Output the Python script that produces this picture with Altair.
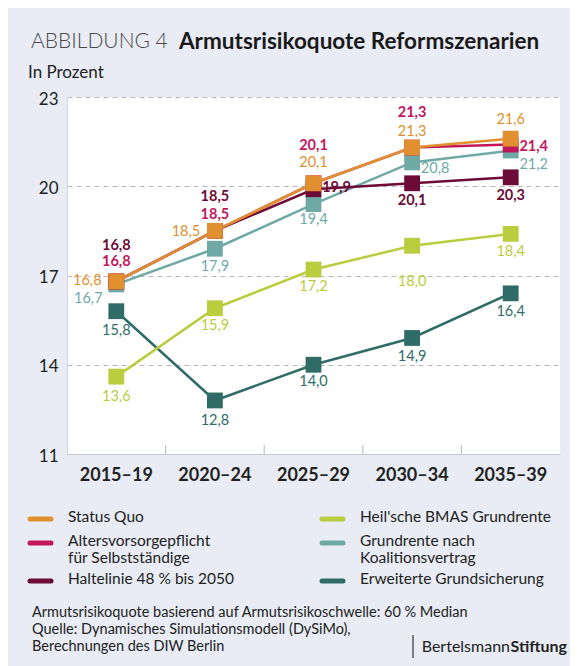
import altair as alt
import pandas as pd

# ---------------- data ----------------
periods = ["2015–19", "2020–24", "2025–29", "2030–34", "2035–39"]
y_ticks = [11, 14, 17, 20, 23]

series_names = [
    "Status Quo",
    "Altersvorsorgepflicht für Selbstständige",
    "Haltelinie 48 % bis 2050",
    "Heil'sche BMAS Grundrente",
    "Grundrente nach Koalitionsvertrag",
    "Erweiterte Grundsicherung",
]
status_quo = [16.8, 18.5, 20.1, 21.3, 21.6]
altersvorsorge = [16.8, 18.5, 20.1, 21.3, 21.4]
haltelinie = [16.8, 18.5, 19.9, 20.1, 20.3]
heil_grundrente = [13.6, 15.9, 17.2, 18.0, 18.4]
koalition_grundrente = [16.7, 17.9, 19.4, 20.8, 21.2]
erweiterte_grundsicherung = [15.8, 12.8, 14.0, 14.9, 16.4]
series_values = [status_quo, altersvorsorge, haltelinie,
                 heil_grundrente, koalition_grundrente, erweiterte_grundsicherung]

legend_lines = [
    ["Status Quo"],
    ["Altersvorsorgepflicht", "für Selbstständige"],
    ["Haltelinie 48 % bis 2050"],
    ["Heil'sche BMAS Grundrente"],
    ["Grundrente nach", "Koalitionsvertrag"],
    ["Erweiterte Grundsicherung"],
]
footer_lines = [
    "Armutsrisikoquote basierend auf Armutsrisikoschwelle: 60 % Median",
    "Quelle: Dynamisches Simulationsmodell (DySiMo),",
    "Berechnungen des DIW Berlin",
]

# ---------------- style ----------------
colors = ["#e0902f", "#c2175d", "#6c0b38", "#b9cd3e", "#6fa9a6", "#2f6c67"]
label_bold = [False, True, True, False, False, False]
# label offsets (dx, dy) in pixels per point
label_offsets = [
    [(-29, 0), (-29, 1), (0, -20), (0, -16), (0, -19)],
    [(0, -19), (0, -16), (0, -37), (0, -35), (23, 2)],
    [(0, -35), (0, -34), (23, -1), (0, 18), (0, 19)],
    [(0, 20), (0, 18), (0, 17), (0, 36), (0, 18)],
    [(-28, 15), (0, 18), (0, 16), (23, 7), (23, 14)],
    [(0, 20), (0, 21), (0, 17), (0, 19), (0, 19)],
]
draw_order = [5, 3, 4, 2, 1, 0]

W, H = 493, 357
FONT = "Lato"
TEXT = "#222222"

rows = []
for s, vals in zip(series_names, series_values):
    for p, v in zip(periods, vals):
        rows.append({"series": s, "period": p, "value": v,
                     "label": f"{v:.1f}".replace(".", ",")})
df = pd.DataFrame(rows)

x_scale = alt.Scale(domain=periods)
y_scale = alt.Scale(domain=[11, 23], nice=False, zero=False)

x_axis = alt.Axis(title=None, labelFont=FONT, labelFontSize=18, labelFontWeight="bold",
                  labelColor=TEXT, ticks=False, labelPadding=12, domainColor="#c4c7cd",
                  grid=False, labelAngle=0)
y_axis = alt.Axis(title=None, values=y_ticks, labelFont=FONT, labelFontSize=17,
                  labelColor=TEXT, ticks=False, labelPadding=9, labelOffset=2,
                  domainColor="#d0d3d9",
                  grid=True, gridColor="#b9b9b9", gridDash=[5, 4], gridWidth=1)

X = alt.X("period:N", scale=x_scale, axis=x_axis)
Y = alt.Y("value:Q", scale=y_scale, axis=y_axis)

base = alt.Chart(df)

layers = []
# bottom ticks at category boundaries (pointing up)
layers.append(
    alt.Chart(pd.DataFrame({"period": periods[1:]})).mark_rule(
        color="#b5b8be", strokeWidth=1, xOffset=-W / 10
    ).encode(x=X, y=alt.value(H), y2=alt.value(H - 9))
)

for i in draw_order:
    s = series_names[i]
    sub = base.transform_filter(alt.datum.series == s)
    layers.append(sub.mark_line(color=colors[i], strokeWidth=2.5).encode(x=X, y=Y))
    layers.append(
        sub.mark_square(color=colors[i], size=250, opacity=1, filled=True).encode(x=X, y=Y)
    )

# value labels
for i in range(len(series_names)):
    s = series_names[i]
    for j, p in enumerate(periods):
        dx, dy = label_offsets[i][j]
        layers.append(
            base.transform_filter(
                (alt.datum.series == s) & (alt.datum.period == p)
            ).mark_text(
                color=colors[i], font=FONT, fontSize=14.5,
                fontWeight="bold" if label_bold[i] else "normal",
                dx=dx, dy=dy, align="center", baseline="middle",
            ).encode(x=X, y=Y, text="label:N")
        )


def txt(t, x, y, size, weight="normal", color=TEXT, align="left", baseline="middle"):
    return alt.Chart(pd.DataFrame({"t": [t]})).mark_text(
        font=FONT, fontSize=size, fontWeight=weight, color=color,
        align=align, baseline=baseline,
    ).encode(x=alt.value(x), y=alt.value(y), text="t:N")


def rule(x1, x2, y1, y2, color, width, cap="butt"):
    return alt.Chart(pd.DataFrame({"a": [0]})).mark_rule(
        color=color, strokeWidth=width, strokeCap=cap
    ).encode(x=alt.value(x1), x2=alt.value(x2), y=alt.value(y1), y2=alt.value(y2))


# title
layers.append(txt("ABBILDUNG 4", -36, -55, 21, weight=300, color="#4a4a4a"))
layers.append(txt("Armutsrisikoquote Reformszenarien", 112, -55, 22.5, weight="bold", color="#1a1a1a"))
layers.append(txt("In Prozent", -39, -24, 17))

# legend
row_y = [420, 444, 482]
col_x = [-39, 253]
for k, lines in enumerate(legend_lines):
    c, r = divmod(k, 3)
    y0 = row_y[r]
    sx = col_x[c]
    layers.append(rule(sx + 2, sx + 23, y0 + 2, y0 + 2, colors[k], 5, cap="round"))
    for m, line in enumerate(lines):
        layers.append(txt(line, sx + 40, y0 + m * 17, 15.5))

# footer
for m, line in enumerate(footer_lines):
    layers.append(txt(line, -35, 516 + m * 17, 14.5))
layers.append(rule(346, 346, 538, 561, "#333333", 1.2))
layers.append(txt("Bertelsmann", 443, 550, 16, align="right"))
layers.append(txt("Stiftung", 500, 550, 16, weight="bold", align="right"))

chart = alt.layer(*layers).properties(
    width=W, height=H,
    autosize=alt.AutoSizeParams(type="none"),
    padding={"left": 59, "top": 89, "right": 10, "bottom": 212},
    background="#e9ecf4",
).configure_view(fill="white", stroke=None)

chart.save("out.html", embed_options={"renderer": "svg", "actions": False})
